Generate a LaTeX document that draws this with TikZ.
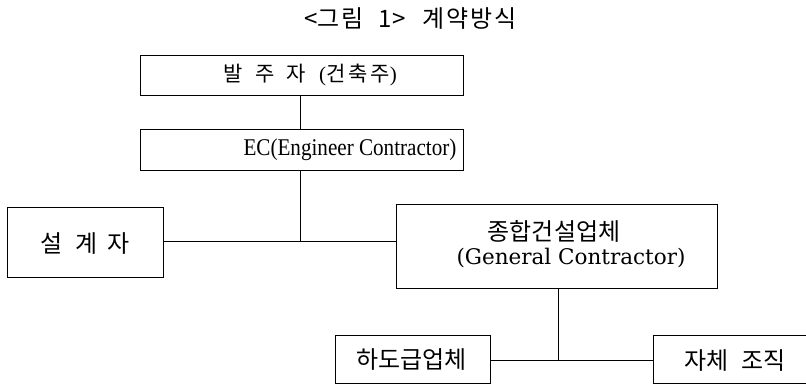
\documentclass[tikz,border=0pt]{standalone}
\usepackage{fontspec}
\setmainfont{Liberation Serif}
\newfontfamily\kr{Noto Sans CJK KR}
\newfontfamily\ecfont{Liberation Serif}[FakeStretch=0.88]
\newfontfamily\gcfont{DejaVu Serif}
\begin{document}
\begin{tikzpicture}[x=1pt,y=-1pt,
  box/.style={draw=black,line width=1pt,minimum width=#1,inner sep=0pt},
  lbl/.style={inner sep=0pt,font=\kr\fontsize{24}{28}\selectfont},
  link/.style={draw=black,line width=1pt}]
\useasboundingbox (0,0) rectangle (806,384);
\clip (0,0) rectangle (806,384);
% title
\node[inner sep=0pt,font=\kr\fontsize{24}{27}\selectfont] (title) at (410.5,19) {<그\hspace{2pt}림\hspace{15pt}1>\hspace{17pt}계\hspace{2pt}약\hspace{2pt}방\hspace{2pt}식};
% boxes
\node[box=323pt,minimum height=40pt] (b1) at (301.5,75) {};
\node[box=323pt,minimum height=41pt] (b2) at (301.5,149.5) {};
\node[box=156pt,minimum height=70pt] (sj) at (85,242) {};
\node[box=321pt,minimum height=84pt] (gc) at (556.5,246) {};
\node[box=155pt,minimum height=48pt] (hd) at (412.5,359) {};
\node[box=177pt,minimum height=48pt] (jc) at (741.5,359) {};
% texts
\node[lbl,font=\fontsize{21}{24}\selectfont] (t1) at (310,75) {{\kr 발\hspace{13pt}주\hspace{12pt}자}\hspace{13pt}({\kr 건\hspace{3pt}축\hspace{3pt}주})};
\node[lbl,font=\ecfont\fontsize{24}{28}\selectfont] (t2) at (350,150) {EC(Engineer Contractor)};
\node[lbl] (t3) at (85,244) {설\hspace{13pt}계\hspace{10pt}자};
\node[lbl] (t4) at (554,231) {종합건설업체};
\node[lbl,font=\gcfont\fontsize{21.5}{25}\selectfont] (t5) at (571,258) {(General Contractor)};
\node[lbl] (t6) at (411.5,360) {하도급업체};
\node[lbl] (t7) at (735,361) {자체\hspace{12pt}조직};
% junctions
\coordinate (j1) at (300,241);
\coordinate (j2) at (558,360);
% connectors
\draw[link] (b1.south -| j1) -- (b2.north -| j1);
\draw[link] (b2.south -| j1) -- (j1);
\draw[link] (sj.east |- j1) -- (j1 -| gc.west);
\draw[link] (gc.south -| j2) -- (j2);
\draw[link] (hd.east |- j2) -- (j2 -| jc.west);
\end{tikzpicture}
\end{document}
